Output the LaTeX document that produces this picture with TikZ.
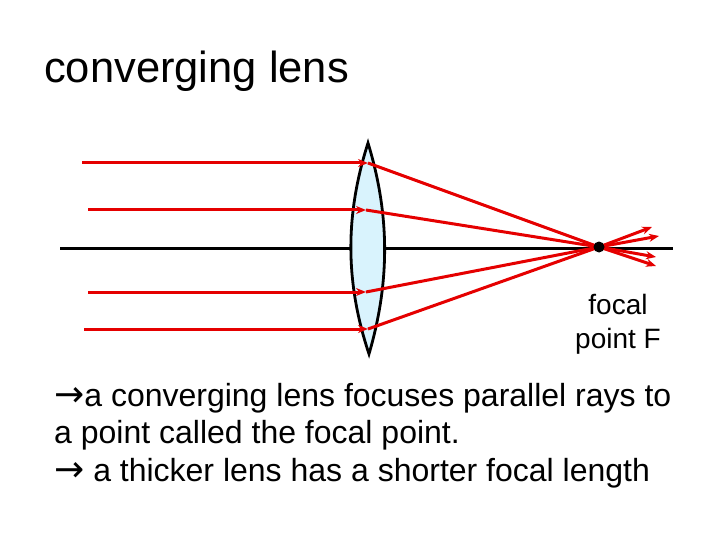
\documentclass[tikz,border=0pt]{standalone}
\usepackage{fontspec}
\setmainfont{Liberation Sans}
\newfontfamily\dejavu{DejaVu Sans}
\usetikzlibrary{arrows.meta}
\newcommand{\bigarr}{{\dejavu\fontsize{36}{37}\selectfont →}}
\begin{document}
\begin{tikzpicture}[x=1pt,y=-1pt,
  ray/.style={draw=red!90!black,line width=3pt},
  rayarr/.style={ray,-{Stealth[length=10pt,width=8pt]}},
  txt/.style={inner sep=0,anchor=base west}]
\useasboundingbox (0,0) rectangle (720,540);
\node[txt,font=\fontsize{43.5}{50}\selectfont] (title) at (44,83) {converging lens};
% axis
\coordinate (axL) at (60,248); \coordinate (axR) at (673,248);
\draw[line width=3pt] (axL) -- (axR);
% lens
\coordinate (lt) at (368,143); \coordinate (lb) at (369,354);
\draw[fill=cyan!15,line width=2.8pt] (lt) .. controls (345,215) and (345,282) .. (lb) .. controls (390,282) and (390,215) .. (lt) -- cycle;
% rays
\coordinate (s1) at (82,163); \coordinate (l1) at (368,163); \coordinate (e1) at (656,266);
\coordinate (s2) at (88,210); \coordinate (l2) at (366,210); \coordinate (e2) at (656,257);
\coordinate (s3) at (88,292); \coordinate (l3) at (366,292); \coordinate (e3) at (659,236);
\coordinate (s4) at (84,329); \coordinate (l4) at (368,329); \coordinate (e4) at (652,227);
\coordinate (F) at (599,247);
\foreach \i in {1,2,3,4}{
  \draw[rayarr] (s\i) -- (l\i);
  \draw[ray] (l\i) -- (F);
  \draw[rayarr] (F) -- (e\i);
}
\fill (F) circle (5.5pt);
\node[align=center,font=\fontsize{28}{34}\selectfont,inner sep=0] (flab) at (618,324) {focal\\point F};
\node[txt,font=\fontsize{32}{37}\selectfont] (t1) at (54,406) {\bigarr a converging lens focuses parallel rays to};
\node[txt,font=\fontsize{32}{37}\selectfont] (t2) at (54,443) {a point called the focal point.};
\node[txt,font=\fontsize{32}{37}\selectfont] (t3) at (54,481) {\bigarr\ a thicker lens has a shorter focal length};
\end{tikzpicture}
\end{document}
